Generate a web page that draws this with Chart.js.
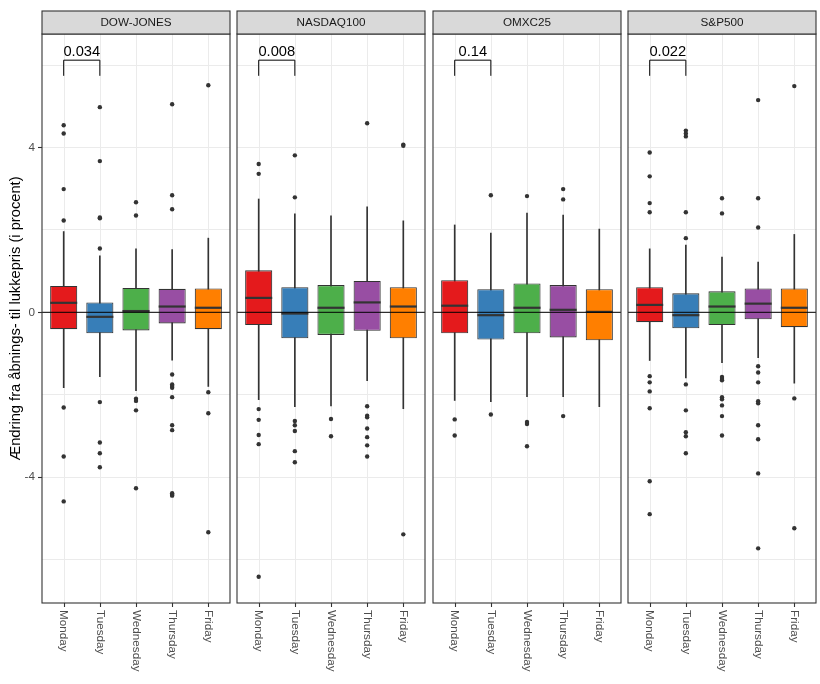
<!DOCTYPE html>
<html>
<head>
<meta charset="utf-8">
<script src="https://cdn.jsdelivr.net/npm/chart.js@4.4.1/dist/chart.umd.min.js"></script>
<style>
  html, body { margin: 0; background: #fff; overflow: hidden; }
  #wrap { position: relative; width: 820px; height: 684px; }
  .panel { position: absolute; left: 0; top: 0; width: 820px; height: 684px; }
  .panel canvas { display: block; }
</style>
</head>
<body>
<div id="wrap"></div>
<script>
const days = ['Monday', 'Tuesday', 'Wednesday', 'Thursday', 'Friday']
const indices = ['DOW-JONES', 'NASDAQ100', 'OMXC25', 'S&P500']
const pValues = ['0.034', '0.008', '0.14', '0.022']
const yTicks = [-4, 0, 4]

// box stats per index, one value per weekday
const upperQuartile = [
  [0.64, 0.24, 0.59, 0.57, 0.58],
  [1.02, 0.61, 0.66, 0.76, 0.61],
  [0.78, 0.56, 0.70, 0.66, 0.56],
  [0.61, 0.46, 0.51, 0.58, 0.58],
]
const medians = [
  [0.23, -0.11, 0.03, 0.14, 0.11],
  [0.35, -0.03, 0.11, 0.24, 0.14],
  [0.16, -0.07, 0.11, 0.06, 0.01],
  [0.18, -0.07, 0.14, 0.21, 0.11],
]
const lowerQuartile = [
  [-0.41, -0.51, -0.44, -0.27, -0.41],
  [-0.31, -0.63, -0.55, -0.45, -0.63],
  [-0.51, -0.66, -0.51, -0.61, -0.68],
  [-0.24, -0.39, -0.31, -0.17, -0.36],
]
const whiskerHigh = [
  [1.96, 1.37, 1.54, 1.52, 1.80],
  [2.75, 2.39, 2.34, 2.56, 2.22],
  [2.12, 1.92, 2.41, 2.36, 2.02],
  [1.54, 1.63, 1.34, 1.22, 1.89],
]
const whiskerLow = [
  [-1.83, -1.56, -1.90, -1.16, -1.80],
  [-2.12, -2.29, -2.27, -1.66, -2.34],
  [-2.14, -2.17, -2.05, -2.05, -2.29],
  [-1.17, -1.59, -1.22, -1.10, -1.72],
]
const outliers = [
  [
    [4.54, 4.34, 2.99, 2.23, -2.31, -3.50, -4.59],
    [4.98, 3.67, 2.30, 2.28, 1.55, -2.18, -3.16, -3.42, -3.76],
    [2.67, 2.35, -2.10, -2.15, -2.38, -4.27],
    [5.05, 2.84, 2.50, -1.51, -1.75, -1.79, -1.83, -2.06, -2.74, -2.86, -4.39, -4.43, -4.45],
    [5.51, -1.94, -2.45, -5.34],
  ],
  [
    [3.60, 3.36, -2.35, -2.61, -2.98, -3.20, -6.42],
    [3.81, 2.79, -2.64, -2.74, -2.88, -3.37, -3.64],
    [-2.59, -3.01],
    [4.59, -2.28, -2.51, -2.55, -2.82, -3.03, -3.23, -3.50],
    [4.07, 4.04, -5.39],
  ],
  [
    [-2.60, -2.99],
    [2.84, -2.48],
    [2.82, -2.66, -2.71, -3.25],
    [2.99, 2.74, -2.52],
    [],
  ],
  [
    [3.88, 3.30, 2.65, 2.43, -1.55, -1.70, -1.92, -2.33, -4.10, -4.90],
    [4.41, 4.34, 4.27, 2.43, 1.80, -1.75, -2.38, -2.91, -3.01, -3.42],
    [2.77, 2.40, -1.57, -1.62, -1.65, -2.06, -2.11, -2.26, -2.52, -2.99],
    [5.15, 2.77, 2.06, -1.31, -1.46, -1.70, -2.16, -2.21, -2.74, -3.08, -3.91, -5.73],
    [5.49, -2.09, -5.24],
  ],
]
// Monday vs Tuesday comparison bracket
const bracketTop = 6.12
const bracketLeg = 5.74

const dayColors = ['#E41A1C', '#377EB8', '#4DAF4A', '#984EA3', '#FF7F00']
const panelLeft = [42, 237, 433, 628]
const panelRight = [230, 425, 621, 816]
const yMin = -7.056
const yMax = 6.755

const FONT = "'Liberation Sans', Arial, sans-serif"

const facetPlugin = {
  id: 'facet',
  beforeDatasetsDraw(chart) {
    const { ctx, chartArea: a, scales: { x } } = chart
    ctx.save()
    // vertical grid at each weekday + ticks under the panel
    days.forEach((d, i) => {
      const px = Math.round(x.getPixelForValue(i + 1)) + 0.5
      ctx.strokeStyle = '#EBEBEB'
      ctx.lineWidth = 1
      ctx.beginPath()
      ctx.moveTo(px, a.top)
      ctx.lineTo(px, a.bottom)
      ctx.stroke()
      ctx.strokeStyle = '#333'
      ctx.lineWidth = 1.1
      ctx.beginPath()
      ctx.moveTo(px, a.bottom)
      ctx.lineTo(px, a.bottom + 4)
      ctx.stroke()
    })
    ctx.restore()
  },
  afterDatasetsDraw(chart) {
    const { ctx, chartArea: a, scales: { y } } = chart
    ctx.save()
    // zero line
    ctx.strokeStyle = '#000'
    ctx.lineWidth = 1
    ctx.beginPath()
    ctx.moveTo(a.left, y.getPixelForValue(0))
    ctx.lineTo(a.right, y.getPixelForValue(0))
    ctx.stroke()
    ctx.restore()
  },
  afterDraw(chart, args, opts) {
    const { ctx, chartArea: a, scales: { x, y } } = chart
    ctx.save()
    // panel border
    ctx.strokeStyle = '#333'
    ctx.lineWidth = 1.1
    ctx.strokeRect(a.left, a.top, a.right - a.left, a.bottom - a.top)
    // strip
    ctx.fillStyle = '#D9D9D9'
    ctx.fillRect(a.left, a.top - 23, a.right - a.left, 23)
    ctx.strokeRect(a.left, a.top - 23, a.right - a.left, 23)
    ctx.fillStyle = '#1A1A1A'
    ctx.font = '11.7px ' + FONT
    ctx.textAlign = 'center'
    ctx.textBaseline = 'middle'
    ctx.fillText(opts.name, (a.left + a.right) / 2, a.top - 11.5)

    // bracket + p-value
    const x1 = x.getPixelForValue(1)
    const x2 = x.getPixelForValue(2)
    const yt = y.getPixelForValue(bracketTop)
    const yl = y.getPixelForValue(bracketLeg)
    ctx.strokeStyle = '#000'
    ctx.lineWidth = 1
    ctx.beginPath()
    ctx.moveTo(x1, yl)
    ctx.lineTo(x1, yt)
    ctx.lineTo(x2, yt)
    ctx.lineTo(x2, yl)
    ctx.stroke()
    ctx.fillStyle = '#000'
    ctx.font = '14.7px ' + FONT
    ctx.textBaseline = 'alphabetic'
    ctx.fillText(opts.p, (x1 + x2) / 2, yt - 4)

    // weekday labels, rotated clockwise
    ctx.fillStyle = '#4D4D4D'
    ctx.font = '11.7px ' + FONT
    ctx.textAlign = 'left'
    ctx.textBaseline = 'middle'
    days.forEach((d, i) => {
      ctx.save()
      ctx.translate(x.getPixelForValue(i + 1), a.bottom + 7)
      ctx.rotate(Math.PI / 2)
      ctx.fillText(d, 0, 0)
      ctx.restore()
    })
    ctx.restore()
  },
}

const wrap = document.getElementById('wrap')

indices.forEach((name, p) => {
  const div = document.createElement('div')
  div.className = 'panel'
  const canvas = document.createElement('canvas')
  div.appendChild(canvas)
  wrap.appendChild(div)
  const first = p === 0

  const whiskers = {
    type: 'bar',
    data: days.map((d, i) => ({ x: i + 1, y: [whiskerLow[p][i], whiskerHigh[p][i]] })),
    backgroundColor: '#333',
    barThickness: 1,
    grouped: false,
    order: 4,
  }
  const boxes = {
    type: 'bar',
    data: days.map((d, i) => ({ x: i + 1, y: [lowerQuartile[p][i], upperQuartile[p][i]] })),
    backgroundColor: dayColors,
    borderColor: '#333',
    borderWidth: 1.1,
    borderSkipped: false,
    barPercentage: 0.75,
    categoryPercentage: 1,
    grouped: false,
    order: 3,
  }
  const medianMarks = {
    type: 'scatter',
    data: days.map((d, i) => ({ x: i + 1, y: medians[p][i] })),
    pointStyle: 'line',
    pointRadius: 13.5,
    pointHoverRadius: 13.5,
    pointBorderWidth: 2.2,
    pointBorderColor: '#333',
    order: 2,
  }
  const outlierPts = []
  outliers[p].forEach((vals, i) => vals.forEach(v => outlierPts.push({ x: i + 1, y: v })))
  const outlierMarks = {
    type: 'scatter',
    data: outlierPts,
    pointRadius: 2.2,
    pointHoverRadius: 2.2,
    pointBackgroundColor: '#333',
    pointBorderWidth: 0,
    order: 1,
  }

  new Chart(canvas, {
    type: 'bar',
    data: { datasets: [whiskers, boxes, medianMarks, outlierMarks] },
    plugins: [facetPlugin],
    options: {
      responsive: true,
      maintainAspectRatio: false,
      animation: false,
      events: [],
      layout: {
        autoPadding: false,
        padding: { left: first ? 0 : panelLeft[p], right: 820 - panelRight[p], top: 34, bottom: 0 },
      },
      plugins: {
        legend: { display: false },
        tooltip: { enabled: false },
        facet: { name: name, p: pValues[p] },
      },
      scales: {
        x: {
          type: 'linear',
          min: 0.4,
          max: 5.6,
          offset: false,
          afterFit: s => {
            s.height = 81
            s.paddingLeft = 0
            s.paddingRight = 0
          },
          ticks: { display: false },
          border: { display: false },
          grid: { display: false },
        },
        y: {
          min: yMin,
          max: yMax,
          afterBuildTicks: s => { s.ticks = [-6, -4, -2, 0, 2, 4, 6].map(v => ({ value: v })) },
          afterFit: s => { s.width = first ? 42 : 0 },
          border: { display: false },
          ticks: {
            display: first,
            color: '#4D4D4D',
            padding: 3,
            font: { family: FONT, size: 11.7 },
            callback: v => (yTicks.includes(v) ? String(v) : ''),
          },
          grid: {
            color: '#EBEBEB',
            lineWidth: 1,
            drawTicks: first,
            tickLength: 4,
            tickWidth: 1.1,
            tickColor: c => (yTicks.includes(c.tick.value) ? '#333' : 'rgba(0,0,0,0)'),
          },
          title: {
            display: first,
            text: 'Ændring fra åbnings- til lukkepris (i procent)',
            color: '#000',
            font: { family: FONT, size: 14.7 },
            padding: { top: 7, bottom: 0 },
          },
        },
      },
    },
  })
})
</script>
</body>
</html>
